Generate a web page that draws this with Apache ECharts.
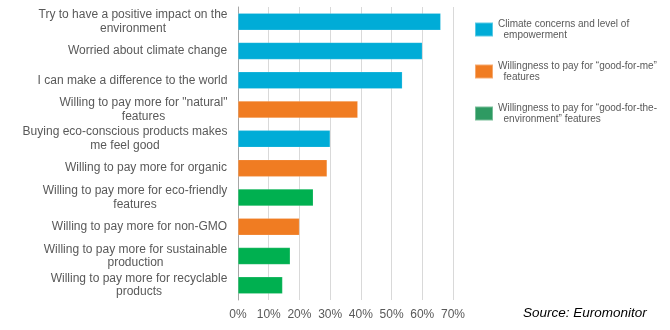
<!DOCTYPE html>
<html>
<head>
<meta charset="utf-8">
<script src="https://cdn.jsdelivr.net/npm/echarts@6/dist/echarts.min.js"></script>
<style>html,body{margin:0;padding:0;background:#fff}#c{width:670px;height:330px}</style>
</head>
<body>
<div id="c"></div>
<script>
var categories = [
  'Try to have a positive impact on the\nenvironment',
  'Worried about climate change',
  'I can make a difference to the world',
  'Willing to pay more for "natural"\nfeatures',
  'Buying eco-conscious products makes\nme feel good',
  'Willing to pay more for organic',
  'Willing to pay more for eco-friendly\nfeatures',
  'Willing to pay more for non-GMO',
  'Willing to pay more for sustainable\nproduction',
  'Willing to pay more for recyclable\nproducts'
];
var values = [66, 60, 53.5, 39, 30, 29, 24.5, 20, 17, 14.5];
var groups = [0, 0, 0, 1, 0, 1, 2, 1, 2, 2];
var groupNames = [
  'Climate concerns and level of\n  empowerment',
  'Willingness to pay for \u201cgood-for-me\u201d\n  features',
  'Willingness to pay for \u201cgood-for-the-\n  environment\u201d features'
];
var barColors = ['#00ACD7', '#F07C22', '#00B050'];
var legendColors = ['#00ACD7', '#F07C22', '#2E9A62'];
var tickLabels = ['0%', '10%', '20%', '30%', '40%', '50%', '60%', '70%'];

var LABEL_FONT = '12px "Liberation Sans"';
var ctx = document.createElement('canvas').getContext('2d');
ctx.font = LABEL_FONT;
var rich = {};
categories.forEach(function (c, i) {
  var w = 0;
  c.split('\n').forEach(function (l) { w = Math.max(w, ctx.measureText(l).width); });
  rich['l' + i] = { width: Math.ceil(w) + 1, align: 'center', fontFamily: 'Liberation Sans', fontSize: 12, color: '#595959', lineHeight: 13.5 };
});

var series = groupNames.map(function (name, g) {
  return {
    name: name,
    type: 'bar',
    stack: 'all',
    barWidth: 17,
    itemStyle: { color: barColors[g], borderColor: 'rgba(255,255,255,0.35)', borderWidth: 0.5 },
    data: values.map(function (v, i) { return groups[i] === g ? v : '-'; })
  };
});

var chart = echarts.init(document.getElementById('c'));
chart.setOption({
  animation: false,
  color: legendColors,
  grid: { left: 238, right: 217, top: 7, bottom: 30, containLabel: false },
  legend: {
    orient: 'vertical',
    left: 474,
    top: 18,
    padding: 0,
    itemWidth: 18,
    itemHeight: 14,
    itemGap: 19,
    icon: 'rect',
    data: groupNames.map(function (n, g) { return { name: n, itemStyle: { color: legendColors[g] } }; }),
    textStyle: { fontFamily: 'Liberation Sans', fontSize: 10, color: '#595959', lineHeight: 11.5 }
  },
  xAxis: {
    type: 'value',
    min: 0, max: 70, interval: 10,
    axisLine: { show: false },
    axisTick: { show: false },
    splitLine: { lineStyle: { color: '#D9D9D9', width: 1 } },
    axisLabel: {
      margin: 9,
      fontFamily: 'Liberation Sans', fontSize: 12, color: '#595959',
      formatter: function (v) { return tickLabels[Math.round(v / 10)]; }
    }
  },
  yAxis: {
    type: 'category',
    inverse: true,
    data: categories,
    axisLine: { show: true, lineStyle: { color: '#A6A6A6' } },
    axisTick: { show: false },
    axisLabel: {
      margin: 10,
      align: 'right',
      rich: rich,
      formatter: function (v, idx) {
        return v.split('\n').map(function (l) { return '{l' + idx + '|' + l + '}'; }).join('\n');
      }
    }
  },
  graphic: [{
    type: 'text',
    left: 523,
    top: 306,
    style: {
      text: 'Source: Euromonitor',
      font: 'italic 13.5px "Liberation Sans"',
      fill: '#000'
    }
  }],
  series: series
});
</script>
</body>
</html>
